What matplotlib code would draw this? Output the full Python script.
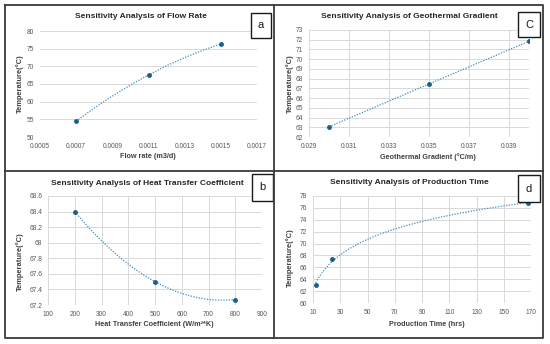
import matplotlib
matplotlib.use("Agg")
import matplotlib.pyplot as plt
from matplotlib.patches import Rectangle
from matplotlib.lines import Line2D
import numpy as np

plt.rcParams['font.family'] = ['Liberation Sans', 'DejaVu Sans']

# panel a - flow rate
flow_x = [0.0007, 0.0011, 0.0015]
flow_y = [54.5, 67.55, 76.3]
# panel b - heat transfer coefficient
htc_x = [200, 500, 800]
htc_y = [68.4, 67.5, 67.27]
# panel c - geothermal gradient
grad_x = [0.030, 0.035, 0.040]
grad_y = [63.05, 67.45, 71.85]
# panel d - production time
time_x = [12, 24, 168]
time_y = [63.1, 67.4, 76.8]

W, H = 550, 344
MARK = '#1b5f87'
TREND = '#3f8fbf'
GRID = '#d9d9d9'
TICK = '#595959'


def px_rect(l, r, t, b):
    return [l / W, 1 - b / H, (r - l) / W, (b - t) / H]


def fx(x):
    return x / W


def fy(y):
    return 1 - y / H


fig = plt.figure(figsize=(W / 100, H / 100), dpi=100)
fig.patch.set_facecolor('white')


def panel(rect, x, y, fit, xlim, ylim, xticks, yticks, xfmt, vgrid,
          title, tpos, xlabel, xlpos, ylpos, letter, box):
    ax = fig.add_axes(px_rect(*rect))
    ax.set_xlim(*xlim)
    ax.set_ylim(*ylim)
    ax.set_xticks(xticks)
    ax.set_yticks(yticks)
    ax.set_xticklabels([xfmt(v) for v in xticks])
    ax.set_yticklabels(['%g' % v for v in yticks])
    ax.tick_params(length=0, labelsize=4.8, colors=TICK, pad=4)
    for s in ax.spines.values():
        s.set_visible(False)
    ax.grid(axis='y', color=GRID, lw=0.7)
    if vgrid:
        ax.grid(axis='x', color=GRID, lw=0.7)
    ax.set_axisbelow(True)

    xs = np.linspace(min(x), max(x), 200)
    if fit == 'log':
        c = np.polyfit(np.log(x), y, 1)
        ys = np.polyval(c, np.log(xs))
    else:
        c = np.polyfit(x, y, 2)
        ys = np.polyval(c, xs)
    ax.plot(xs, ys, color=TREND, lw=0.9, ls=(0, (1, 1.2)))
    ax.plot(x, y, 'o', color=MARK, ms=2.5, mec=MARK)

    fig.text(fx(tpos[0]), fy(tpos[1]), title, ha='center', va='center',
             fontsize=6.0, fontweight='bold', color='#262626')
    fig.text(fx(xlpos[0]), fy(xlpos[1]), xlabel, ha='center', va='center',
             fontsize=5.2, fontweight='bold', color='#404040')
    fig.text(fx(ylpos[0]), fy(ylpos[1]), 'Temperature(°C)', ha='center',
             va='center', rotation=90, fontsize=5.4, fontweight='bold',
             color='#404040')
    l, r, t, b = box
    fig.patches.append(Rectangle((fx(l), fy(b)), fx(r - l), (b - t) / H,
                                 transform=fig.transFigure, fill=True,
                                 facecolor='white', edgecolor='#1a1a1a',
                                 lw=1.0))
    fig.text(fx((l + r) / 2), fy((t + b) / 2), letter, ha='center',
             va='center', fontsize=8, color='#1a1a1a')
    return ax


panel((40, 257, 31, 137), flow_x, flow_y, 'poly', (0.0005, 0.0017), (50, 80),
      [0.0005, 0.0007, 0.0009, 0.0011, 0.0013, 0.0015, 0.0017],
      [50, 55, 60, 65, 70, 75, 80], lambda v: '%.4f' % v, False,
      'Sensitivity Analysis of Flow Rate', (141, 17),
      'Flow rate (m3/d)', (148, 157), (20, 84), 'a', (251, 271, 13, 38))

panel((309, 529, 30, 137), grad_x, grad_y, 'poly', (0.029, 0.040), (62, 73),
      [0.029, 0.031, 0.033, 0.035, 0.037, 0.039],
      list(range(62, 74)), lambda v: '%.3f' % v, True,
      'Sensitivity Analysis of Geothermal Gradient', (409, 17),
      'Geothermal Gradient (°C/m)', (428, 157), (290, 84), 'C',
      (518, 540, 12, 37))

panel((48, 262, 196, 305), htc_x, htc_y, 'poly', (100, 900), (67.2, 68.6),
      [100, 200, 300, 400, 500, 600, 700, 800, 900],
      [67.2, 67.4, 67.6, 67.8, 68.0, 68.2, 68.4, 68.6], lambda v: '%d' % v,
      True, 'Sensitivity Analysis of Heat Transfer Coefficient', (147, 184),
      'Heat Transfer Coefficient (W/m²*K)', (154, 325), (20, 262), 'b',
      (252, 273, 174, 201))

panel((313, 531, 196, 303), time_x, time_y, 'log', (10, 170), (60, 78),
      list(range(10, 171, 20)), list(range(60, 79, 2)), lambda v: '%d' % v,
      True, 'Sensitivity Analysis of Production Time', (409, 182),
      'Production Time (hrs)', (427, 325), (290, 258), 'd',
      (518, 540, 175, 202))

# panel frames
for xs_, ys_ in [([5, 543, 543, 5, 5], [5, 5, 338, 338, 5]),
                 ([274, 274], [5, 338]), ([5, 543], [171, 171])]:
    fig.lines.append(Line2D([fx(v) for v in xs_], [fy(v) for v in ys_],
                            transform=fig.transFigure, color='#3a3a3a',
                            lw=1.3))

fig.savefig('out.png', dpi=100)
